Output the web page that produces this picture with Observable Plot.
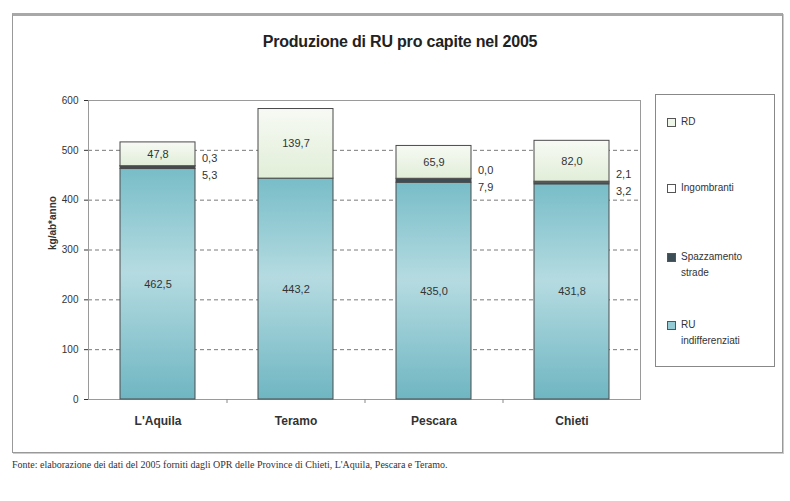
<!DOCTYPE html>
<html>
<head>
<meta charset="utf-8">
<script src="https://cdn.jsdelivr.net/npm/d3@7"></script>
<script src="https://cdn.jsdelivr.net/npm/@observablehq/plot@0.6"></script>
<style>
  html, body { margin: 0; padding: 0; background: #fff; }
  #wrap { position: relative; width: 790px; height: 501px; overflow: hidden; font-family: "Liberation Sans", Arial, sans-serif; }
  #frame { position: absolute; left: 12px; top: 13px; width: 769px; height: 436px; border: 1px solid #999; border-top: 3px solid #a8a8a8; box-shadow: 1px 1px 0 #ccc; }
  #title { position: absolute; left: 0; width: 800px; top: 33px; text-align: center; font-weight: bold; font-size: 16px; color: #222; letter-spacing: -0.2px; }
  #chart { position: absolute; left: 0; top: 0; }
  #legend { position: absolute; left: 655px; top: 94px; width: 118px; height: 271px; border: 1px solid #888; font-size: 10px; color: #333; }
  .item { position: absolute; left: 11px; display: flex; align-items: flex-start; line-height: 16px; }
  .sw { width: 7px; height: 7px; border: 1px solid #555; margin-top: 4px; margin-right: 5px; flex: none; }
  #caption { position: absolute; left: 12px; top: 459px; font-family: "Liberation Serif", "Times New Roman", serif; font-size: 10px; color: #333; }
</style>
</head>
<body>
<div id="wrap">
  <div id="frame"></div>
  <div id="chart"></div>
  <div id="title"></div>
  <div id="legend"></div>
  <div id="caption"></div>
</div>
<script>
const titleText = "Produzione di RU pro capite nel 2005";
const captionText = "Fonte: elaborazione dei dati del 2005 forniti dagli OPR delle Province di Chieti, L'Aquila, Pescara e Teramo.";
const yLabel = "kg/ab*anno";
const provinces = ["L'Aquila", "Teramo", "Pescara", "Chieti"];
const series = ["RU indifferenziati", "Spazzamento strade", "Ingombranti", "RD"];
const legendOrder = ["RD", "Ingombranti", "Spazzamento strade", "RU indifferenziati"];
const ruIndiff = [462.5, 443.2, 435.0, 431.8];
const spazzamento = [5.3, null, 7.9, 3.2];
const ingombranti = [0.3, null, 0.0, 2.1];
const rd = [47.8, 139.7, 65.9, 82.0];
const yTicks = [0, 100, 200, 300, 400, 500, 600];

const seriesValues = {
  "RU indifferenziati": ruIndiff,
  "Spazzamento strade": spazzamento,
  "Ingombranti": ingombranti,
  "RD": rd
};
const colors = {
  "RU indifferenziati": "url(#gTeal)",
  "Spazzamento strade": "#3d4d56",
  "Ingombranti": "#ffffff",
  "RD": "url(#gRD)"
};
const swatch = {
  "RU indifferenziati": "#94cbd4",
  "Spazzamento strade": "#3d4d56",
  "Ingombranti": "#ffffff",
  "RD": "#eef5e9"
};

const fmt = v => v.toFixed(1).replace(".", ",");

const rows = [];
provinces.forEach((p, i) => {
  series.forEach(s => rows.push({prov: p, series: s, value: seriesValues[s][i] ?? 0}));
});
const side = provinces.map((p, i) => ({prov: p, base: ruIndiff[i] + (spazzamento[i] ?? 0), sp: spazzamento[i], ing: ingombranti[i]}))
  .filter(d => d.sp != null);

const plot = Plot.plot({
  width: 790,
  height: 501,
  marginLeft: 88,
  marginRight: 150,
  marginTop: 100,
  marginBottom: 102,
  style: {background: "transparent", fontFamily: "'Liberation Sans', Arial, sans-serif", fontSize: "10px", color: "#333"},
  x: {domain: provinces, paddingInner: 0.457, paddingOuter: 0.2285, label: null},
  y: {domain: [0, 600], label: null},
  color: {domain: series, range: series.map(s => colors[s])},
  marks: [
    Plot.ruleY(yTicks.slice(1, -1), {stroke: "#7a7a7a", strokeDasharray: "4,3"}),
    Plot.frame({stroke: "#9a9a9a"}),
    Plot.ruleX([0], {frameAnchor: "left", stroke: "#666"}),
    Plot.barY(rows, Plot.stackY({x: "prov", y: "value", z: "series", fill: "series", stroke: "#4a4a4a", strokeWidth: 1})),
    Plot.text(rows, Plot.stackY({
      x: "prov", y: "value", z: "series",
      text: d => (d.series === "RU indifferenziati" || d.series === "RD") ? fmt(d.value) : null,
      fontSize: 11, fill: "#333"
    })),
    Plot.text(side, {x: "prov", y: "base", text: d => fmt(d.ing), dx: 44, dy: -8, textAnchor: "start", fontSize: 11, fill: "#333"}),
    Plot.text(side, {x: "prov", y: "base", text: d => fmt(d.sp), dx: 44, dy: 9, textAnchor: "start", fontSize: 11, fill: "#333"}),
    Plot.ruleX(provinces.slice(1), {x: d => d, dx: -69, y1: 0, y2: -8, stroke: "#888"}),
    Plot.axisY({ticks: yTicks, tickSize: 4, tickPadding: 6, fontSize: 10, label: null}),
    Plot.axisX({tickSize: 0, tickPadding: 17, fontSize: 12, fontWeight: "bold", label: null}),
    Plot.text([yLabel], {frameAnchor: "left", dx: -36, rotate: -90, fontWeight: "bold", fontSize: 10, fill: "#333"})
  ]
});

const ns = "http://www.w3.org/2000/svg";
const defs = document.createElementNS(ns, "defs");
function grad(id, stops) {
  const g = document.createElementNS(ns, "linearGradient");
  g.setAttribute("id", id);
  g.setAttribute("x1", "0"); g.setAttribute("y1", "0");
  g.setAttribute("x2", "0"); g.setAttribute("y2", "1");
  stops.forEach(([o, c]) => {
    const s = document.createElementNS(ns, "stop");
    s.setAttribute("offset", o);
    s.setAttribute("stop-color", c);
    g.appendChild(s);
  });
  defs.appendChild(g);
}
grad("gTeal", [[0, "#78bdc8"], [0.45, "#b5dbe1"], [1, "#6fb6c2"]]);
grad("gRD", [[0, "#f7faf4"], [1, "#e1eed8"]]);
plot.insertBefore(defs, plot.firstChild);

document.getElementById("chart").appendChild(plot);
document.getElementById("title").textContent = titleText;
document.getElementById("caption").textContent = captionText;

const legend = document.getElementById("legend");
const legendTops = [19, 85, 154, 222];
const legendLines = {
  "RD": ["RD"],
  "Ingombranti": ["Ingombranti"],
  "Spazzamento strade": ["Spazzamento", "strade"],
  "RU indifferenziati": ["RU", "indifferenziati"]
};
legendOrder.forEach((s, i) => {
  const item = document.createElement("div");
  item.className = "item";
  item.style.top = legendTops[i] + "px";
  const sw = document.createElement("div");
  sw.className = "sw";
  sw.style.background = swatch[s];
  const t = document.createElement("div");
  legendLines[s].forEach((line, k) => {
    if (k) t.appendChild(document.createElement("br"));
    t.appendChild(document.createTextNode(line));
  });
  item.appendChild(sw);
  item.appendChild(t);
  legend.appendChild(item);
});
</script>
</body>
</html>
